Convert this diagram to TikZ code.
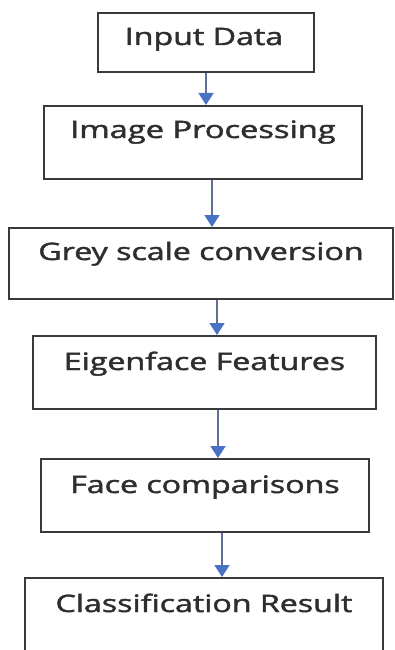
\documentclass[tikz,border=0pt]{standalone}
\usepackage{fontspec}
\setmainfont{Open Sans}
\newfontfamily\lblfont[FakeBold=1.6]{Open Sans}
\usetikzlibrary{arrows.meta,calc}
\definecolor{boxline}{HTML}{3A3A3A}
\definecolor{arrblue}{HTML}{4A72C4}
\definecolor{arrline}{HTML}{5F7096}
\definecolor{txtgray}{HTML}{2E2E2E}
\begin{document}
\begin{tikzpicture}[x=1pt,y=-1pt,
  box/.style={draw=boxline,line width=2pt,fill=white,rectangle,inner sep=0pt,anchor=north west},
  txt/.style={anchor=base,inner sep=0pt,text=txtgray,font=\lblfont\fontsize{24}{28}\selectfont},
  arr/.style={draw=arrline,line width=1.7pt,-{Triangle[length=12pt,width=15pt,color=arrblue]}}]
\useasboundingbox (0,0) rectangle (395,650);
\clip (0,0) rectangle (395,650);
\node[box,minimum width=216pt,minimum height=59pt] (b1) at (97,12) {};
\node[box,minimum width=318pt,minimum height=73pt] (b2) at (43,105) {};
\node[box,minimum width=384pt,minimum height=71pt] (b3) at (8,227) {};
\node[box,minimum width=343pt,minimum height=73pt] (b4) at (32,335) {};
\node[box,minimum width=328pt,minimum height=73pt] (b5) at (40,458) {};
\node[box,minimum width=358pt,minimum height=90pt] (b6) at (24,577) {};
\node[txt] (t1) at ($(b1.north)+(-2,33)$) {\scalebox{1.34}[1]{Input Data}};
\node[txt] (t2) at ($(b2.north)+(0,33)$) {\scalebox{1.36}[1]{Image Processing}};
\node[txt] (t3) at ($(b3.north)+(0,33)$) {\scalebox{1.34}[1]{Grey scale conversion}};
\node[txt] (t4) at ($(b4.north)+(0,35)$) {\scalebox{1.34}[1]{Eigenface Features}};
\node[txt] (t5) at ($(b5.north)+(0,35)$) {\scalebox{1.34}[1]{Face comparisons}};
\node[txt] (t6) at ($(b6.north)+(0,35)$) {\scalebox{1.34}[1]{Classification Result}};
\coordinate (x1) at (206,0);
\coordinate (x2) at (212,0);
\coordinate (x3) at (217,0);
\coordinate (x4) at (218,0);
\coordinate (x5) at (222,0);
\draw[arr] (b1.south -| x1) -- (b2.north -| x1);
\draw[arr] (b2.south -| x2) -- (b3.north -| x2);
\draw[arr] (b3.south -| x3) -- (b4.north -| x3);
\draw[arr] (b4.south -| x4) -- (b5.north -| x4);
\draw[arr] (b5.south -| x5) -- (b6.north -| x5);
\end{tikzpicture}
\end{document}
